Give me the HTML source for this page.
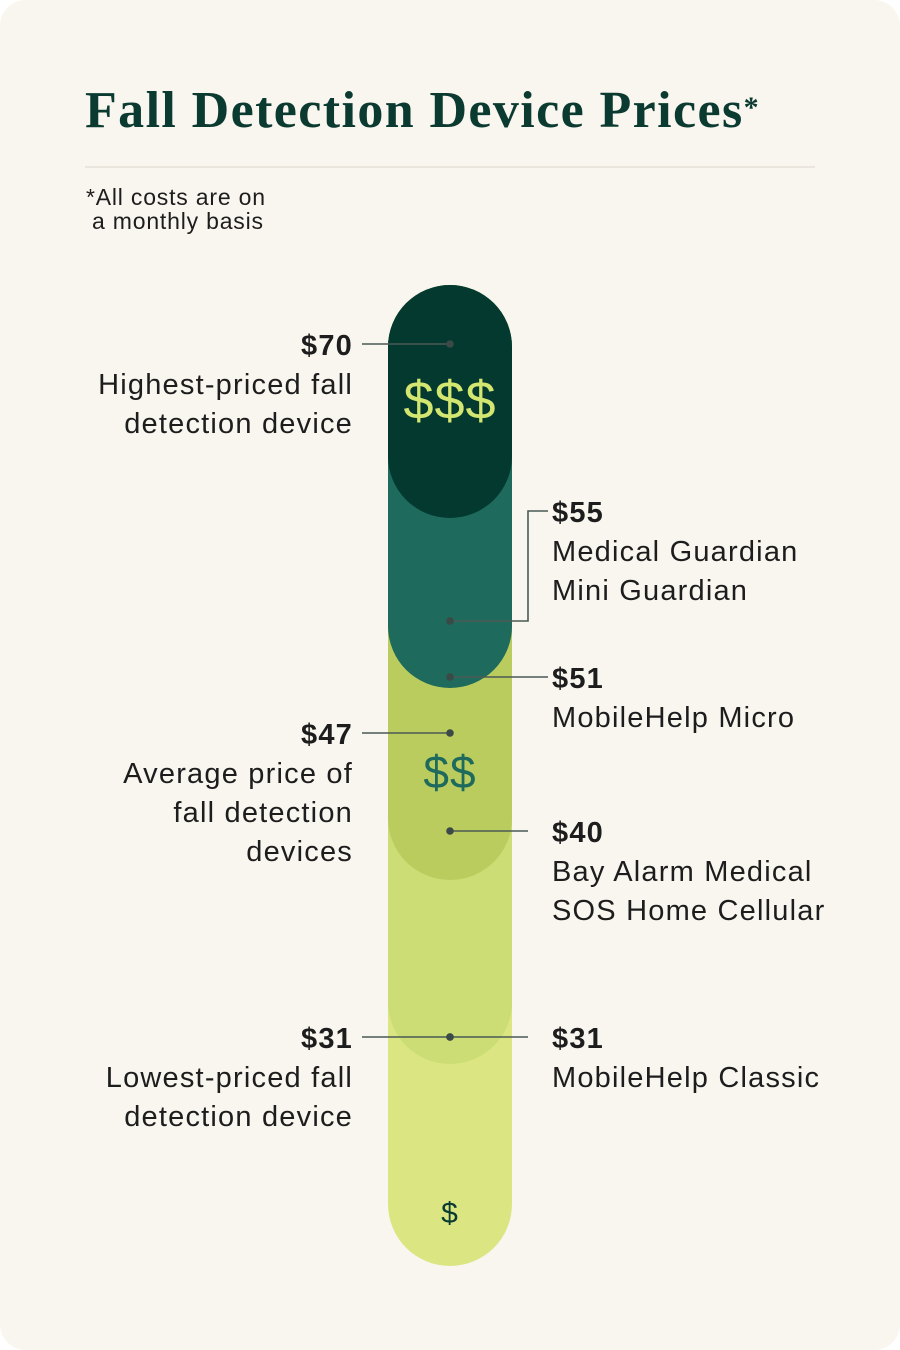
<!DOCTYPE html>
<html><head><meta charset="utf-8">
<style>
html,body{margin:0;padding:0;background:#fff;}
#card{position:relative;width:900px;height:1350px;background:#f9f5ef;border-radius:26px;overflow:hidden;}
svg text{font-family:"Liberation Sans",sans-serif;}
</style></head>
<body>
<div id="card">
<svg id="chart" width="900" height="1350" viewBox="0 0 900 1350">
  <text x="85" y="127" style="font-family:'Liberation Serif',serif;font-weight:bold;font-size:52px;fill:#0b3a30;letter-spacing:1.4px;">Fall Detection Device Prices<tspan font-size="30" dy="-10">*</tspan></text>
  <line x1="85" y1="167" x2="815" y2="167" stroke="#e6e1d8" stroke-width="1.5"/>
  <text x="86" y="205" font-size="23" fill="#1d1d1d" letter-spacing="0.8">*All costs are on</text>
  <text x="92" y="229" font-size="23" fill="#1d1d1d" letter-spacing="0.8">a monthly basis</text>
  <g id="pills"></g>
  <g id="marks"></g>
</svg>
</div>
<script>
// data
const pillBottoms = [1266, 1064, 880, 688, 518];
const pillColors = ["#dbe683", "#cbdd74", "#bacc5e", "#1e6a5c", "#04392f"];
const values = [70, 55, 51, 47, 40, 31, 31];
const priceLabels = ["$70", "$55", "$51", "$47", "$40", "$31", "$31"];
const sides = ["left", "right", "right", "left", "right", "left", "right"];
const descriptions = [
  ["Highest-priced fall", "detection device"],
  ["Medical Guardian", "Mini Guardian"],
  ["MobileHelp Micro"],
  ["Average price of", "fall detection", "devices"],
  ["Bay Alarm Medical", "SOS Home Cellular"],
  ["Lowest-priced fall", "detection device"],
  ["MobileHelp Classic"]
];
// polylinear axis: domain stops -> range stops
const axisDomain = [31, 40, 55, 70];
const axisRange = [1037, 831, 621, 344];
const ns = "http://www.w3.org/2000/svg";
const cx = 450, pillW = 124, pillTop = 285;
function yScale(v){
  for(let i=0;i<axisDomain.length-1;i++){
    const d0=axisDomain[i], d1=axisDomain[i+1];
    if(v<=d1 || i===axisDomain.length-2){
      const t=(v-d0)/(d1-d0);
      return axisRange[i]+t*(axisRange[i+1]-axisRange[i]);
    }
  }
}
function mk(tag, attrs, parent){ const e=document.createElementNS(ns,tag); for(const k in attrs) e.setAttribute(k,attrs[k]); parent.appendChild(e); return e; }
const pills = document.getElementById('pills');
pillBottoms.forEach((b,i)=>{
  const r = mk('rect',{x:cx-pillW/2,y:pillTop,width:pillW,height:b-pillTop,rx:62,ry:62,fill:pillColors[i]},pills);
  
  
});
const sym = [["$$$",419,54,"#d3e66f"],["$$",788,46,"#1e6a5c"],["$",1223,30,"#0b3a30"]];
sym.forEach(s=>{
  const t = mk('text',{x:cx,y:s[1],'font-size':s[2],fill:s[3],'text-anchor':'middle','letter-spacing':1},pills);
  t.textContent = s[0];
  
  
});
const marks = document.getElementById('marks');
values.forEach((v,i)=>{
  const y = yScale(v);
  const left = sides[i]==="left";
  let d;
  if(left) d = `M362 ${y} H${cx}`;
  else if(i===1) d = `M${cx} ${y} H528 V${y-110} H548`;
  else d = `M${cx} ${y} H${i===2?548:528}`;
  const p = mk('path',{d:d,stroke:"#4a5a55",'stroke-width':1.6,fill:"none"},marks);
  
  
  const dot = mk('circle',{cx:cx,cy:y,r:3.8,fill:"#3c4a47"},marks);
  
  
  const ty = (i===1) ? y-110+11 : y+11;
  const x = left ? 353 : 552;
  const anchor = left ? 'end' : 'start';
  const t = mk('text',{x:x,y:ty,'font-size':29,'font-weight':'bold',fill:"#1d1d1d",'text-anchor':anchor,'letter-spacing':1.2},marks);
  t.textContent = priceLabels[i];
  
  
  descriptions[i].forEach((line,j)=>{
    const dt = mk('text',{x:x,y:ty+39*(j+1),'font-size':29,fill:"#1d1d1d",'text-anchor':anchor,'letter-spacing':1.2},marks);
    dt.textContent = line;
    
    
  });
});
</script>
</body></html>
